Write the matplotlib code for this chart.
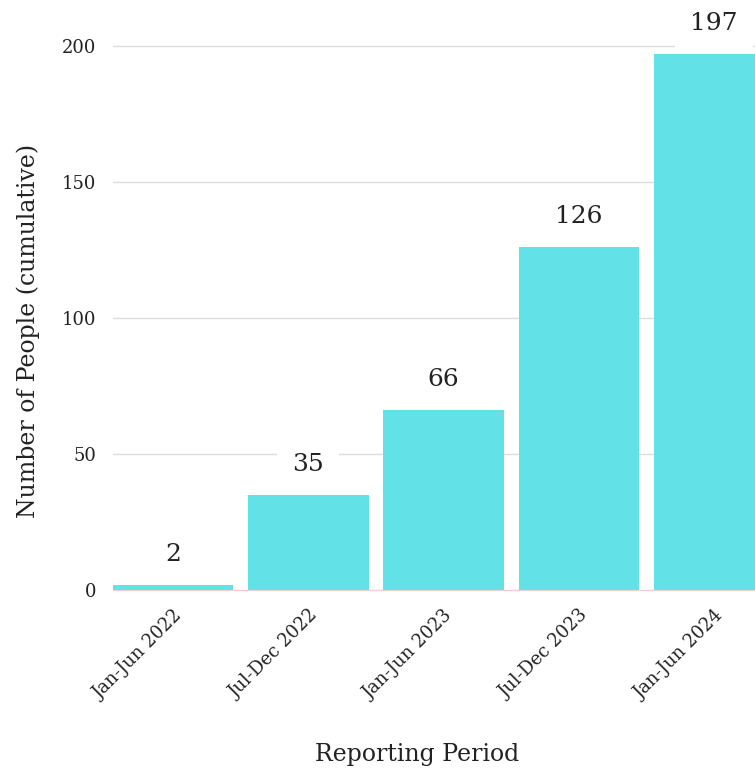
import matplotlib

matplotlib.use("Agg")
import matplotlib.pyplot as plt

periods = ["Jan-Jun 2022", "Jul-Dec 2022", "Jan-Jun 2023", "Jul-Dec 2023", "Jan-Jun 2024"]
people = [2, 35, 66, 126, 197]

plt.rcParams["font.family"] = "DejaVu Serif"

fig = plt.figure(figsize=(7.55, 7.7), dpi=100)
W, H = 755, 770
# axes box in pixels: left 113, bottom 590, ~135 px per bar
left_px, bottom_px = 113, 590
px_per_unit = 2.72
ymax = 214
top_px = bottom_px - ymax * px_per_unit
pitch = 135.2
xmin, xmax = -0.445, 4.5
right_px = left_px + (xmax - xmin) * pitch
ax = fig.add_axes([left_px / W, 1 - bottom_px / H, (right_px - left_px) / W, (bottom_px - top_px) / H])

x = list(range(len(periods)))
bars = ax.bar(x, people, width=0.89, color="#62e1e6", zorder=2)
ax.set_xlim(xmin, xmax)
ax.set_ylim(0, ymax)
ax.set_yticks([0, 50, 100, 150, 200])
ax.yaxis.grid(True, color="#dddddd", linewidth=1, zorder=0)
ax.set_axisbelow(True)
for side in ["top", "right", "left"]:
    ax.spines[side].set_visible(False)
ax.spines["bottom"].set_color("#f0d0c8")
ax.tick_params(axis="both", length=0, labelsize=13, colors="#222222")
ax.tick_params(axis="y", pad=12)
ax.tick_params(axis="x", pad=12)
ax.set_xticks(x)
ax.set_xticklabels(periods, rotation=45, ha="right", rotation_mode="anchor")

for rect, v in zip(bars, people):
    ax.annotate(str(v), (rect.get_x() + rect.get_width() / 2, v), xytext=(0, 19),
                textcoords="offset pixels", ha="center", va="bottom", fontsize=18, color="#222222",
                bbox=dict(boxstyle="square,pad=0.6", fc="white", ec="none"), zorder=3)

fig.text(28 / W, 1 - 331 / H, "Number of People (cumulative)", rotation=90,
         ha="center", va="center", fontsize=17, color="#222222")
fig.text(417 / W, 1 - 755 / H, "Reporting Period", ha="center", va="center",
         fontsize=17, color="#222222")

fig.savefig("out.png", dpi=100)
